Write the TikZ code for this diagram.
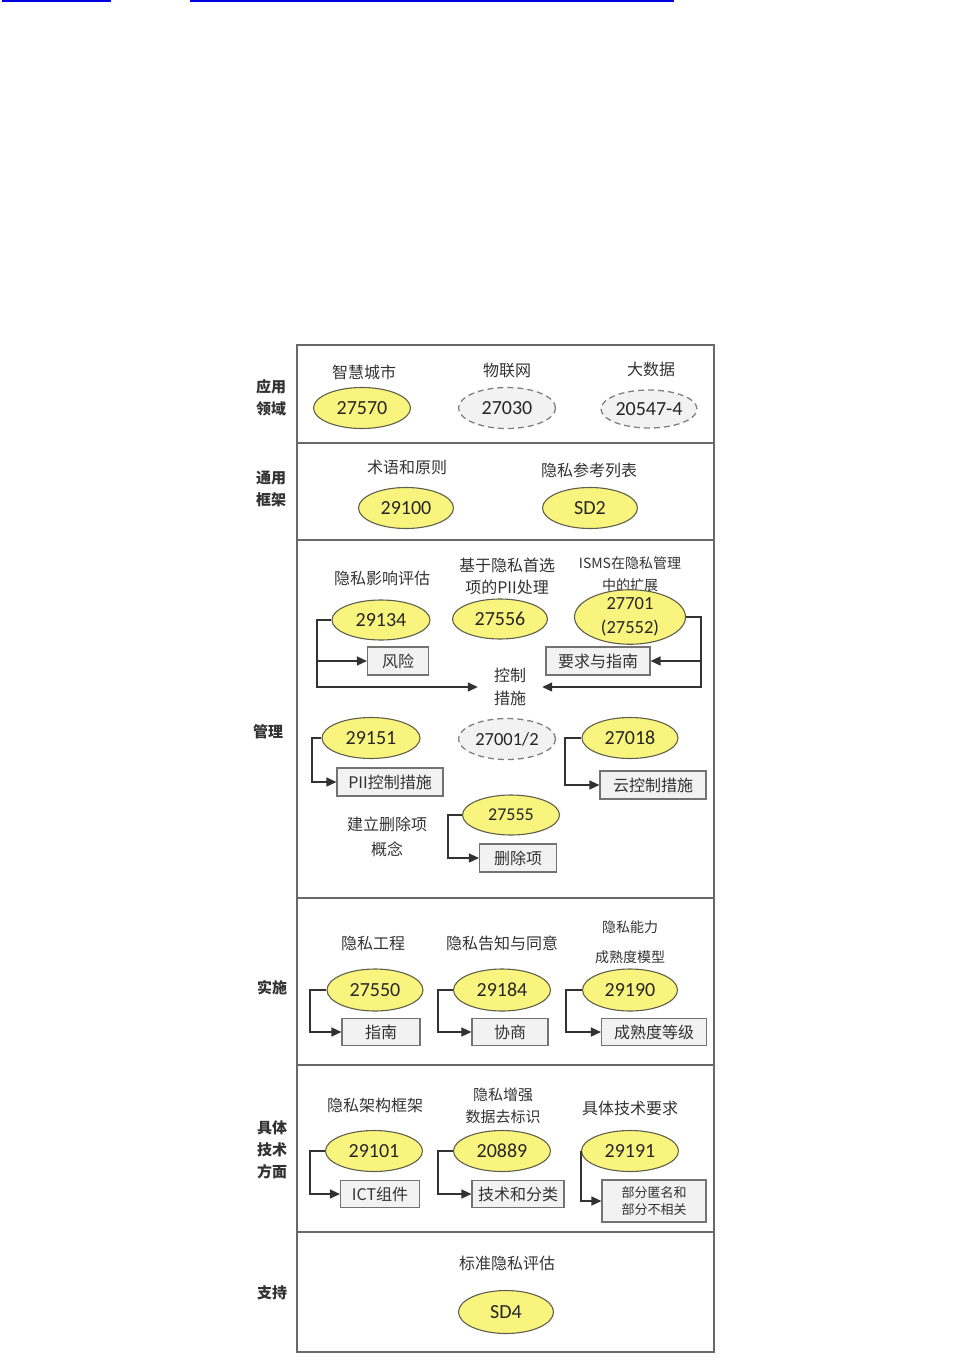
\documentclass[tikz,border=0pt]{standalone}
\usepackage{fontspec}
\setmainfont{Carlito}
\newfontfamily\cjk{Noto Sans CJK SC}
\usetikzlibrary{shapes.geometric,arrows.meta}
\definecolor{ylw}{RGB}{248,244,125}
\definecolor{yline}{RGB}{95,95,75}
\definecolor{gfill}{RGB}{242,242,242}
\definecolor{framec}{RGB}{105,105,105}
\definecolor{txt}{RGB}{50,50,50}
\definecolor{lnk}{RGB}{0,0,225}
\begin{document}
\begin{tikzpicture}[x=1pt,y=-1pt,
  yel/.style={ellipse, draw=yline, line width=1.1pt, fill=ylw, inner sep=0pt,
    minimum width=97pt, minimum height=41pt, align=center,
    font=\fontsize{20}{22}\selectfont, text=black!85},
  dsh/.style={ellipse, draw=gray, dash pattern=on 6pt off 4pt, line width=1.3pt,
    fill=gfill, inner sep=0pt, minimum width=97pt, minimum height=41pt,
    font=\fontsize{20}{22}\selectfont, text=black!85},
  bx/.style={draw=gray!90!black, line width=1.1pt, fill=gfill, inner sep=0pt,
    minimum height=28pt, align=center, font=\cjk\fontsize{16}{18}\selectfont, text=txt},
  lbl/.style={font=\cjk\fontsize{16}{22}\selectfont, text=txt, align=center, inner sep=0pt},
  sml/.style={font=\cjk\fontsize{14}{22}\selectfont, text=txt, align=center, inner sep=0pt},
  sec/.style={font=\cjk\bfseries\fontsize{15}{22}\selectfont, align=center, text=txt, inner sep=0pt},
  conn/.style={draw=txt, line width=1.4pt},
  arr/.style={conn, -{Triangle[length=10pt,width=9pt]}}
]
\useasboundingbox (0,0) rectangle (970,1364);
% hyperlink underlines
\fill[lnk] (2,0) rectangle (111,2);
\fill[lnk] (190,0) rectangle (674,2);
% frame
\draw[framec, line width=2pt] (297,345) rectangle (714,1352);
\foreach \yy in {443,540,898,1065,1232} \draw[framec, line width=2pt] (297,\yy) -- (714,\yy);

% ---- section 1
\node[sec] (s1) at (271,398) {应用\\领域};
\node[lbl] (t1a) at (364,372) {智慧城市};
\node[lbl] (t1b) at (507,370) {物联网};
\node[lbl] (t1c) at (651,369) {大数据};
\node[yel] (e27570) at (362,408) {27570};
\node[dsh] (e27030) at (507,408) {27030};
\node[dsh, minimum height=38pt, minimum width=96pt] (e20547) at (649,409) {20547-4};

% ---- section 2
\node[sec] (s2) at (271,489) {通用\\框架};
\node[lbl] (t2a) at (407,467) {术语和原则};
\node[lbl] (t2b) at (589,470) {隐私参考列表};
\node[yel, minimum width=95pt] (e29100) at (406,508) {29100};
\node[yel, minimum width=95pt] (eSD2) at (590,508) {SD2};

% ---- section 3
\node[sec] (s3) at (268,732) {管理};
\node[lbl] (t3a) at (382,578) {隐私影响评估};
\node[lbl] (t3b) at (507,576) {基于隐私首选\\项的PII处理};
\node[sml] (t3c) at (630,574) {ISMS在隐私管理\\中的扩展};
\node[yel, minimum width=98pt, minimum height=40pt] (e29134) at (381,620) {29134};
\node[yel, minimum width=95pt, minimum height=40pt] (e27556) at (500,619) {27556};
\node[yel, minimum width=111pt, minimum height=47pt, font=\fontsize{18.5}{24}\selectfont] (e27701) at (630,617) {27701\\(27552)};
\node[bx, minimum width=61pt] (bRisk) at (398,661) {风险};
\node[bx, minimum width=104pt] (bReq) at (598,661) {要求与指南};
\node[lbl, inner xsep=16pt, font=\cjk\fontsize{16}{23}\selectfont] (tCtrl) at (510,687) {控制\\措施};
\node[yel, minimum width=98pt] (e29151) at (371,738) {29151};
\node[dsh, font=\fontsize{18.5}{22}\selectfont] (e27001) at (507,739) {27001/2};
\node[yel, minimum width=96pt] (e27018) at (630,738) {27018};
\node[bx, minimum width=106pt] (bPII) at (390,782) {PII控制措施};
\node[bx, minimum width=106pt] (bCloud) at (653,785) {云控制措施};
\node[lbl, font=\cjk\fontsize{16}{25}\selectfont] (t3d) at (387,837) {建立删除项\\概念};
\node[yel, minimum height=40pt, font=\fontsize{18}{22}\selectfont] (e27555) at (511,815) {27555};
\node[bx, minimum width=77pt] (bDel) at (518,858) {删除项};

\coordinate (cL) at (317,620);
\coordinate (cR) at (701,617);
\coordinate (cA) at (312,738);
\coordinate (cB) at (565,738);
\coordinate (cC) at (448,815);
\draw[arr] (e29134.west) -- (cL) |- (tCtrl.west);
\draw[arr] (cL |- bRisk.west) -- (bRisk.west);
\draw[arr] (e27701.east) -- (cR) |- (tCtrl.east);
\draw[arr] (cR |- bReq.east) -- (bReq.east);
\draw[arr] (e29151.west) -- (cA) |- (bPII.west);
\draw[arr] (e27018.west) -- (cB) |- (bCloud.west);
\draw[arr] (e27555.west) -- (cC) |- (bDel.west);

% ---- section 4
\node[sec] (s4) at (272,988) {实施};
\node[lbl] (t4a) at (373,943) {隐私工程};
\node[lbl] (t4b) at (502,943) {隐私告知与同意};
\node[sml, font=\cjk\fontsize{14}{30}\selectfont] (t4c) at (630,942) {隐私能力\\成熟度模型};
\node[yel, minimum width=96pt, minimum height=42pt] (e27550) at (375,990) {27550};
\node[yel, minimum width=97pt, minimum height=42pt] (e29184) at (502,990) {29184};
\node[yel, minimum width=95pt, minimum height=42pt] (e29190) at (630,990) {29190};
\node[bx, minimum width=78pt, minimum height=27pt] (bGuide) at (381,1032) {指南};
\node[bx, minimum width=76pt, minimum height=27pt] (bNeg) at (510,1032) {协商};
\node[bx, minimum width=105pt, minimum height=27pt] (bMat) at (654,1032) {成熟度等级};
\coordinate (cD) at (310,990);
\coordinate (cE) at (438,990);
\coordinate (cF) at (566,990);
\draw[arr] (e27550.west) -- (cD) |- (bGuide.west);
\draw[arr] (e29184.west) -- (cE) |- (bNeg.west);
\draw[arr] (e29190.west) -- (cF) |- (bMat.west);

% ---- section 5
\node[sec] (s5) at (272,1150) {具体\\技术\\方面};
\node[lbl] (t5a) at (375,1105) {隐私架构框架};
\node[sml, font=\cjk\fontsize{15}{22}\selectfont] (t5b) at (503,1106) {隐私增强\\数据去标识};
\node[lbl] (t5c) at (630,1108) {具体技术要求};
\node[yel] (e29101) at (374,1151) {29101};
\node[yel] (e20889) at (502,1151) {20889};
\node[yel] (e29191) at (630,1151) {29191};
\node[bx, minimum width=79pt, minimum height=27pt] (bICT) at (380,1194) {ICT组件};
\node[bx, minimum width=92pt, minimum height=27pt] (bTech) at (518,1194) {技术和分类};
\node[bx, minimum width=104pt, minimum height=42pt, font=\cjk\fontsize{13}{17}\selectfont] (bAnon) at (654,1201) {部分匿名和\\部分不相关};
\coordinate (cG) at (310,1151);
\coordinate (cH) at (438,1151);
\draw[arr] (e29101.west) -- (cG) |- (bICT.west);
\draw[arr] (e20889.west) -- (cH) |- (bTech.west);
\draw[arr] (e29191.west) |- (bAnon.west);

% ---- section 6
\node[sec] (s6) at (272,1293) {支持};
\node[lbl] (t6a) at (507,1263) {标准隐私评估};
\node[yel, minimum width=95pt, minimum height=43pt] (eSD4) at (506,1312) {SD4};
\end{tikzpicture}
\end{document}
